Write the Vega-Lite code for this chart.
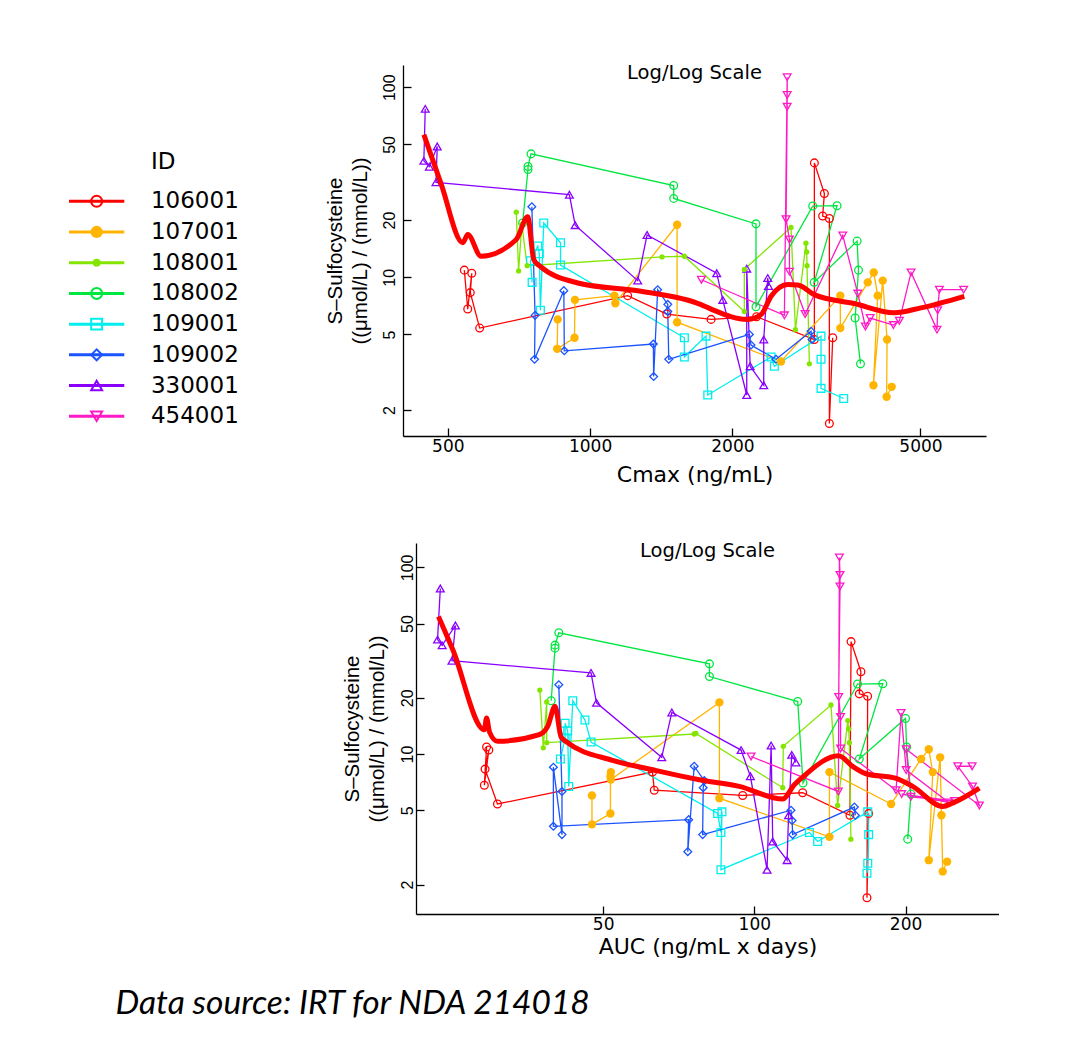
{
 "$schema": "https://vega.github.io/schema/vega-lite/v6.json",
 "background": "white",
 "padding": {"left": 67, "top": 62, "right": 0, "bottom": 0},
 "config": {
  "view": {"stroke": null},
  "font": "DejaVu Sans",
  "axis": {"grid": false, "domainColor": "black", "tickColor": "black", "labelColor": "black", "titleColor": "black", "domainWidth": 1.3, "tickWidth": 1.3, "tickSize": -8, "labelPadding": 10, "labelFontSize": 17, "titleFontWeight": "normal", "labelFont": "DejaVu Sans", "titleFont": "DejaVu Sans"}
 },
 "title": {"text": "Data source: IRT for NDA 214018", "orient": "bottom", "anchor": "start", "dx": 48, "offset": 31, "font": "Lato", "fontStyle": "italic", "fontWeight": "normal", "fontSize": 33.5, "color": "black"},
 "datasets": {
  "ids": [{"id":"106001"},{"id":"107001"},{"id":"108001"},{"id":"108002"},{"id":"109001"},{"id":"109002"},{"id":"330001"},{"id":"454001"}],
  "obs": [
   {"id":"106001","i":1,"c":542,"a":29.3,"s":10.9},
   {"id":"106001","i":2,"c":551,"a":29.0,"s":6.8},
   {"id":"106001","i":3,"c":562,"a":29.6,"s":10.5},
   {"id":"106001","i":4,"c":558,"a":29.1,"s":8.3},
   {"id":"106001","i":5,"c":584,"a":30.8,"s":5.4},
   {"id":"106001","i":6,"c":1201,"a":62.7,"s":8.0},
   {"id":"106001","i":7,"c":1453,"a":63.2,"s":6.4},
   {"id":"106001","i":8,"c":1803,"a":94.8,"s":6.0},
   {"id":"106001","i":9,"c":2250,"a":124.8,"s":6.2},
   {"id":"106001","i":10,"c":2982,"a":155,"s":4.7},
   {"id":"106001","i":11,"c":2982,"a":155.8,"s":40},
   {"id":"106001","i":12,"c":3131,"a":163,"s":27.6},
   {"id":"106001","i":13,"c":3105,"a":161.8,"s":21},
   {"id":"106001","i":14,"c":3208,"a":168.1,"s":20.4},
   {"id":"106001","i":15,"c":3208,"a":167.6,"s":1.7},
   {"id":"106001","i":16,"c":3261,"a":168.9,"s":4.8},
   {"id":"107001","i":1,"c":854,"a":47.5,"s":6.0},
   {"id":"107001","i":2,"c":852,"a":47.5,"s":4.2},
   {"id":"107001","i":3,"c":927,"a":51.7,"s":4.8},
   {"id":"107001","i":4,"c":929,"a":51.7,"s":7.6},
   {"id":"107001","i":5,"c":1126,"a":51.8,"s":8.0},
   {"id":"107001","i":6,"c":1131,"a":51.8,"s":7.3},
   {"id":"107001","i":7,"c":1528,"a":85.2,"s":18.9},
   {"id":"107001","i":8,"c":1528,"a":85.2,"s":5.8},
   {"id":"107001","i":9,"c":2535,"a":141.1,"s":3.6},
   {"id":"107001","i":10,"c":3384,"a":141.1,"s":8.0},
   {"id":"107001","i":11,"c":3384,"a":187.2,"s":5.4},
   {"id":"107001","i":12,"c":3867,"a":214.8,"s":9.4},
   {"id":"107001","i":13,"c":3982,"a":222.5,"s":10.6},
   {"id":"107001","i":14,"c":4059,"a":226.6,"s":8.0},
   {"id":"107001","i":15,"c":3976,"a":222.5,"s":2.7},
   {"id":"107001","i":16,"c":4160,"a":234.4,"s":9.6},
   {"id":"107001","i":17,"c":4249,"a":235.8,"s":4.7},
   {"id":"107001","i":18,"c":4240,"a":237.2,"s":2.35},
   {"id":"107001","i":19,"c":4346,"a":242,"s":2.65},
   {"id":"108001","i":1,"c":698,"a":37.4,"s":22},
   {"id":"108001","i":2,"c":706,"a":38.0,"s":10.8},
   {"id":"108001","i":3,"c":717,"a":38.6,"s":19},
   {"id":"108001","i":4,"c":736,"a":38.6,"s":11.5},
   {"id":"108001","i":5,"c":1420,"a":75.9,"s":12.8},
   {"id":"108001","i":6,"c":1583,"a":76.5,"s":12.9},
   {"id":"108001","i":7,"c":2120,"a":113.9,"s":6.6},
   {"id":"108001","i":8,"c":2120,"a":114.2,"s":11},
   {"id":"108001","i":9,"c":2661,"a":142.1,"s":18.3},
   {"id":"108001","i":10,"c":2719,"a":146.5,"s":5.3},
   {"id":"108001","i":11,"c":2862,"a":153.5,"s":15.1},
   {"id":"108001","i":12,"c":2872,"a":154.1,"s":13.6},
   {"id":"108001","i":13,"c":2877,"a":154.6,"s":11.5},
   {"id":"108001","i":14,"c":2910,"a":155.7,"s":3.5},
   {"id":"108002","i":1,"c":720,"a":39.4,"s":19.3},
   {"id":"108002","i":2,"c":739,"a":40.1,"s":36.9},
   {"id":"108002","i":3,"c":739,"a":40.1,"s":38.3},
   {"id":"108002","i":4,"c":750,"a":40.8,"s":44.6},
   {"id":"108002","i":5,"c":1503,"a":81.4,"s":30.4},
   {"id":"108002","i":6,"c":1503,"a":81.4,"s":26},
   {"id":"108002","i":7,"c":2244,"a":122,"s":19.1},
   {"id":"108002","i":8,"c":2244,"a":125,"s":7.0},
   {"id":"108002","i":9,"c":2958,"a":160.5,"s":23.7},
   {"id":"108002","i":10,"c":3330,"a":180.2,"s":23.8},
   {"id":"108002","i":11,"c":2979,"a":161.8,"s":9.4},
   {"id":"108002","i":12,"c":3672,"a":200,"s":15.5},
   {"id":"108002","i":13,"c":3697,"a":201,"s":10.9},
   {"id":"108002","i":14,"c":3637,"a":205,"s":6.1},
   {"id":"108002","i":15,"c":3733,"a":202,"s":3.5},
   {"id":"109001","i":1,"c":754,"a":41.1,"s":9.4},
   {"id":"109001","i":2,"c":748,"a":42.0,"s":12.2},
   {"id":"109001","i":3,"c":775,"a":42.0,"s":14.6},
   {"id":"109001","i":4,"c":781,"a":42.5,"s":13.3},
   {"id":"109001","i":5,"c":785,"a":42.7,"s":6.7},
   {"id":"109001","i":6,"c":798,"a":43.5,"s":19.3},
   {"id":"109001","i":7,"c":866,"a":46.0,"s":15.2},
   {"id":"109001","i":8,"c":866,"a":47.3,"s":11.6},
   {"id":"109001","i":9,"c":1583,"a":84.5,"s":4.8},
   {"id":"109001","i":10,"c":1583,"a":85.8,"s":3.8},
   {"id":"109001","i":11,"c":1759,"a":86.2,"s":4.9},
   {"id":"109001","i":12,"c":1774,"a":85.8,"s":2.4},
   {"id":"109001","i":13,"c":2415,"a":128.7,"s":3.8},
   {"id":"109001","i":14,"c":2454,"a":133.7,"s":3.4},
   {"id":"109001","i":15,"c":3080,"a":168.2,"s":4.9},
   {"id":"109001","i":16,"c":3080,"a":168.9,"s":3.7},
   {"id":"109001","i":17,"c":3080,"a":168.2,"s":2.6},
   {"id":"109001","i":18,"c":3440,"a":167.6,"s":2.3},
   {"id":"109002","i":1,"c":753,"a":40.8,"s":23.5},
   {"id":"109002","i":2,"c":765,"a":41.4,"s":6.3},
   {"id":"109002","i":3,"c":763,"a":41.4,"s":3.7},
   {"id":"109002","i":4,"c":880,"a":39.8,"s":8.5},
   {"id":"109002","i":5,"c":882,"a":39.8,"s":4.1},
   {"id":"109002","i":6,"c":1361,"a":74.0,"s":4.45},
   {"id":"109002","i":7,"c":1363,"a":73.7,"s":3.0},
   {"id":"109002","i":8,"c":1390,"a":75.9,"s":8.6},
   {"id":"109002","i":9,"c":1460,"a":79.5,"s":7.2},
   {"id":"109002","i":10,"c":1460,"a":79.1,"s":6.6},
   {"id":"109002","i":11,"c":1467,"a":78.9,"s":3.7},
   {"id":"109002","i":12,"c":2173,"a":118.3,"s":5.0},
   {"id":"109002","i":13,"c":2190,"a":118.9,"s":4.4},
   {"id":"109002","i":14,"c":2474,"a":119.2,"s":3.7},
   {"id":"109002","i":15,"c":2934,"a":158.2,"s":5.2},
   {"id":"109002","i":16,"c":2948,"a":158.9,"s":4.7},
   {"id":"330001","i":1,"c":448,"a":23.7,"s":77},
   {"id":"330001","i":2,"c":445,"a":23.4,"s":41},
   {"id":"330001","i":3,"c":457,"a":23.9,"s":38.2},
   {"id":"330001","i":4,"c":475,"a":25.4,"s":48.8},
   {"id":"330001","i":5,"c":472,"a":25.0,"s":31.6},
   {"id":"330001","i":6,"c":904,"a":47.3,"s":27.2},
   {"id":"330001","i":7,"c":930,"a":48.5,"s":18.8},
   {"id":"330001","i":8,"c":1261,"a":65.4,"s":9.6},
   {"id":"330001","i":9,"c":1320,"a":68.5,"s":16.7},
   {"id":"330001","i":10,"c":1853,"a":94.1,"s":10.5},
   {"id":"330001","i":11,"c":1909,"a":98.2,"s":7.6},
   {"id":"330001","i":12,"c":2145,"a":106,"s":2.4},
   {"id":"330001","i":13,"c":2145,"a":108,"s":11.1},
   {"id":"330001","i":14,"c":2181,"a":108.8,"s":3.4},
   {"id":"330001","i":15,"c":2330,"a":116.2,"s":2.7},
   {"id":"330001","i":16,"c":2330,"a":117,"s":4.7},
   {"id":"330001","i":17,"c":2376,"a":118.7,"s":9.9},
   {"id":"330001","i":18,"c":2385,"a":121,"s":9.0},
   {"id":"454001","i":1,"c":1720,"a":98.5,"s":9.7},
   {"id":"454001","i":2,"c":2577,"a":147,"s":6.3},
   {"id":"454001","i":3,"c":2612,"a":147.7,"s":113},
   {"id":"454001","i":4,"c":2612,"a":148.1,"s":91},
   {"id":"454001","i":5,"c":2612,"a":148.1,"s":79},
   {"id":"454001","i":6,"c":2598,"a":147.2,"s":20.2},
   {"id":"454001","i":7,"c":2641,"a":148.5,"s":15.8},
   {"id":"454001","i":8,"c":2641,"a":148.5,"s":10.7},
   {"id":"454001","i":9,"c":2851,"a":191.5,"s":6.4},
   {"id":"454001","i":10,"c":3424,"a":196,"s":16.6},
   {"id":"454001","i":11,"c":3685,"a":200.6,"s":8.2},
   {"id":"454001","i":12,"c":3824,"a":243.9,"s":5.5},
   {"id":"454001","i":13,"c":3912,"a":196.5,"s":6.1},
   {"id":"454001","i":14,"c":4382,"a":250.4,"s":5.6},
   {"id":"454001","i":15,"c":4512,"a":205,"s":5.9},
   {"id":"454001","i":16,"c":4776,"a":200.6,"s":10.6},
   {"id":"454001","i":17,"c":5419,"a":280.6,"s":5.3},
   {"id":"454001","i":18,"c":5437,"a":271.9,"s":6.7},
   {"id":"454001","i":19,"c":5482,"a":254.1,"s":8.6},
   {"id":"454001","i":20,"c":6169,"a":271.4,"s":8.6}
  ],
  "smc": [
   {"c":445,"s":56.3},{"c":484,"s":31},{"c":538,"s":15.2},{"c":551,"s":16.8},{"c":588,"s":12.9},{"c":698,"s":15.8},{"c":738,"s":20.8},{"c":760,"s":12.4},{"c":781,"s":11.5},{"c":942,"s":9.33},{"c":1282,"s":8.44},{"c":1717,"s":7.18},{"c":1803,"s":6.8},{"c":2155,"s":5.99},{"c":2300,"s":6.36},{"c":2415,"s":7.94},{"c":2619,"s":9.15},{"c":2750,"s":9.1},{"c":2980,"s":8.1},{"c":3620,"s":7.27},{"c":4400,"s":6.5},{"c":5010,"s":6.9},{"c":6190,"s":7.94}
  ],
  "sma": [
   {"a":23.5,"s":54.6},{"a":25.1,"s":36.2},{"a":29.0,"s":13.5},{"a":29.3,"s":15.6},{"a":29.7,"s":13.1},{"a":30.8,"s":11.7},{"a":37.3,"s":12.7},{"a":38.8,"s":14.1},{"a":40.1,"s":18.0},{"a":41.2,"s":12.4},{"a":42.1,"s":11.7},{"a":52.2,"s":9.25},{"a":62.7,"s":8.24},{"a":77.7,"s":7.28},{"a":93.3,"s":6.71},{"a":113.9,"s":5.74},{"a":120.1,"s":6.84},{"a":124.8,"s":7.52},{"a":147.2,"s":9.79},{"a":157,"s":8.58},{"a":166.9,"s":7.84},{"a":191.5,"s":7.4},{"a":206.7,"s":6.71},{"a":237.2,"s":5.24},{"a":248.4,"s":5.47},{"a":280.6,"s":6.57}
  ]
 },
 "spacing": 55,
 "vconcat": [
  {
   "spacing": 19,
   "hconcat": [
    {
     "width": 237, "height": 371,
     "data": {"name": "ids"},
     "encoding": {"y": {"field": "id", "type": "nominal", "scale": {"type": "point", "domain": ["_a","_b","_c","ID","106001","107001","108001","108002","109001","109002","330001","454001"], "padding": 0.54, "align": 0.405}, "axis": null}},
     "layer": [
      {"mark": {"type": "rule", "strokeWidth": 3}, "encoding": {"x": {"datum": 0, "type": "quantitative", "scale": {"domain": [0, 237]}, "axis": null}, "x2": {"datum": 56}, "color": {"field": "id", "type": "nominal", "legend": null, "scale": {"domain": ["106001","107001","108001","108002","109001","109002","330001","454001"], "range": ["#ff0000","#ffb400","#84e600","#00e640","#00eeee","#1a53ff","#8a00ff","#ff1ac6"]}}}},
      {"transform": [{"filter": {"not": {"field": "id", "oneOf": ["107001","108001"]}}}], "mark": {"type": "point", "filled": false, "strokeWidth": 2, "size": 120, "opacity": 1}, "encoding": {"x": {"datum": 28, "type": "quantitative"}, "color": {"field": "id", "type": "nominal", "legend": null}, "shape": {"field": "id", "type": "nominal", "legend": null, "scale": {"domain": ["106001","107001","108001","108002","109001","109002","330001","454001"], "range": ["circle","circle","circle","circle","square","diamond","triangle-up","triangle-down"]}}}},
      {"transform": [{"filter": {"field": "id", "equal": "107001"}}], "mark": {"type": "circle", "size": 150, "opacity": 1}, "encoding": {"x": {"datum": 28, "type": "quantitative"}, "color": {"field": "id", "type": "nominal", "legend": null}}},
      {"transform": [{"filter": {"field": "id", "equal": "108001"}}], "mark": {"type": "circle", "size": 60, "opacity": 1}, "encoding": {"x": {"datum": 28, "type": "quantitative"}, "color": {"field": "id", "type": "nominal", "legend": null}}},
      {"mark": {"type": "text", "align": "left", "baseline": "middle", "fontSize": 23, "font": "DejaVu Sans", "color": "black"}, "encoding": {"x": {"datum": 83, "type": "quantitative"}, "text": {"field": "id"}}},
      {"data": {"values": [{"t": "ID"}]}, "mark": {"type": "text", "align": "left", "baseline": "middle", "fontSize": 23, "font": "DejaVu Sans", "color": "black", "dy": -9}, "encoding": {"x": {"datum": 83, "type": "quantitative"}, "y": {"datum": "ID", "type": "nominal"}, "text": {"field": "t"}}}
     ]
    },
    {
     "width": 583, "height": 371,
     "title": {"text": "Log/Log Scale", "offset": -18, "fontSize": 19.5, "fontWeight": "normal", "font": "DejaVu Sans", "color": "black"},
     "layer": [
      {"data": {"name": "obs"}, "mark": {"type": "line", "strokeWidth": 1.3}, "encoding": {
        "x": {"field": "c", "type": "quantitative", "scale": {"type": "log", "domain": [402, 6880], "nice": false}, "axis": {"values": [500, 1000, 2000, 5000], "format": "d", "title": "Cmax (ng/mL)", "titleFontSize": 22, "titlePadding": 10}},
        "y": {"field": "s", "type": "quantitative", "scale": {"type": "log", "domain": [1.46, 131], "nice": false}, "axis": {"values": [2, 5, 10, 20, 50, 100], "format": "d", "labelAngle": 270, "labelAlign": "center", "labelBaseline": "bottom", "labelFont": "Liberation Sans", "labelFontSize": 16, "labelPadding": 14, "title": ["S–Sulfocysteine", "((μmol/L) / (mmol/L))"], "titleFont": "Liberation Sans", "titleFontSize": 20.5, "titleLineHeight": 25, "titlePadding": 11}},
        "color": {"field": "id", "type": "nominal", "legend": null},
        "order": {"field": "i"}}},
      {"data": {"name": "obs"}, "transform": [{"filter": {"not": {"field": "id", "oneOf": ["107001","108001"]}}}], "mark": {"type": "point", "filled": false, "strokeWidth": 1.3, "size": 60, "opacity": 1}, "encoding": {"x": {"field": "c", "type": "quantitative"}, "y": {"field": "s", "type": "quantitative"}, "color": {"field": "id", "type": "nominal", "legend": null}, "shape": {"field": "id", "type": "nominal", "legend": null}}},
      {"data": {"name": "obs"}, "transform": [{"filter": {"field": "id", "equal": "107001"}}], "mark": {"type": "circle", "size": 70, "opacity": 1}, "encoding": {"x": {"field": "c", "type": "quantitative"}, "y": {"field": "s", "type": "quantitative"}, "color": {"field": "id", "type": "nominal", "legend": null}}},
      {"data": {"name": "obs"}, "transform": [{"filter": {"field": "id", "equal": "108001"}}], "mark": {"type": "circle", "size": 28, "opacity": 1}, "encoding": {"x": {"field": "c", "type": "quantitative"}, "y": {"field": "s", "type": "quantitative"}, "color": {"field": "id", "type": "nominal", "legend": null}}},
      {"data": {"name": "smc"}, "mark": {"type": "line", "color": "#ff0000", "strokeWidth": 5, "interpolate": "monotone"}, "encoding": {"x": {"field": "c", "type": "quantitative"}, "y": {"field": "s", "type": "quantitative"}}}
     ]
    }
   ]
  },
  {
   "spacing": 19,
   "hconcat": [
    {"width": 254, "height": 10, "data": {"values": []}, "mark": "point", "encoding": {}},
    {
     "width": 583, "height": 371,
     "title": {"text": "Log/Log Scale", "offset": -18, "fontSize": 19.5, "fontWeight": "normal", "font": "DejaVu Sans", "color": "black"},
     "layer": [
      {"data": {"name": "obs"}, "mark": {"type": "line", "strokeWidth": 1.3}, "encoding": {
        "x": {"field": "a", "type": "quantitative", "scale": {"type": "log", "domain": [21.2, 307], "nice": false}, "axis": {"values": [50, 100, 200], "format": "d", "title": "AUC (ng/mL x days)", "titleFontSize": 22, "titlePadding": 4}},
        "y": {"field": "s", "type": "quantitative", "scale": {"type": "log", "domain": [1.39, 135], "nice": false}, "axis": {"values": [2, 5, 10, 20, 50, 100], "format": "d", "labelAngle": 270, "labelAlign": "center", "labelBaseline": "bottom", "labelFont": "Liberation Sans", "labelFontSize": 16, "labelPadding": 9, "title": ["S–Sulfocysteine", "((μmol/L) / (mmol/L))"], "titleFont": "Liberation Sans", "titleFontSize": 20.5, "titleLineHeight": 25, "titlePadding": 12}},
        "color": {"field": "id", "type": "nominal", "legend": null},
        "order": {"field": "i"}}},
      {"data": {"name": "obs"}, "transform": [{"filter": {"not": {"field": "id", "oneOf": ["107001","108001"]}}}], "mark": {"type": "point", "filled": false, "strokeWidth": 1.3, "size": 60, "opacity": 1}, "encoding": {"x": {"field": "a", "type": "quantitative"}, "y": {"field": "s", "type": "quantitative"}, "color": {"field": "id", "type": "nominal", "legend": null}, "shape": {"field": "id", "type": "nominal", "legend": null}}},
      {"data": {"name": "obs"}, "transform": [{"filter": {"field": "id", "equal": "107001"}}], "mark": {"type": "circle", "size": 70, "opacity": 1}, "encoding": {"x": {"field": "a", "type": "quantitative"}, "y": {"field": "s", "type": "quantitative"}, "color": {"field": "id", "type": "nominal", "legend": null}}},
      {"data": {"name": "obs"}, "transform": [{"filter": {"field": "id", "equal": "108001"}}], "mark": {"type": "circle", "size": 28, "opacity": 1}, "encoding": {"x": {"field": "a", "type": "quantitative"}, "y": {"field": "s", "type": "quantitative"}, "color": {"field": "id", "type": "nominal", "legend": null}}},
      {"data": {"name": "sma"}, "mark": {"type": "line", "color": "#ff0000", "strokeWidth": 5, "interpolate": "monotone"}, "encoding": {"x": {"field": "a", "type": "quantitative"}, "y": {"field": "s", "type": "quantitative"}}}
     ]
    }
   ]
  }
 ]
}
